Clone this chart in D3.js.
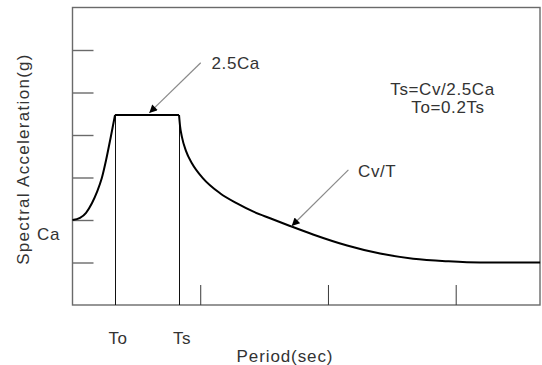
<!DOCTYPE html>
<html>
<head>
<meta charset="utf-8">
<script src="https://cdn.jsdelivr.net/npm/d3@7"></script>
<style>
  html, body { margin: 0; padding: 0; background: #fff; }
  svg { display: block; }
  text { font-family: "Liberation Sans", Arial, sans-serif; fill: #333; }
</style>
</head>
<body>
<svg id="chart" width="542" height="365"></svg>
<script>
// Design response spectrum (schematic), period in tick units, acceleration in tick units
const xTicks = [1, 2, 3];
const yTicks = [1, 2, 3, 4, 5, 6];

const Ca = 2.0;            // spectral acceleration at T = 0
const plateauSa = 4.47;    // the "2.5Ca" plateau level
const To = 0.333;
const Ts = 0.834;
const periodMarks = ["To", "Ts"];
const periodValues = [To, Ts];

// rising branch, 0 .. To
const rampT  = [0, 0.059, 0.106, 0.153, 0.192, 0.229, 0.263, 0.300, 0.333];
const rampSa = [2.0, 2.05, 2.17, 2.40, 2.66, 2.98, 3.41, 3.96, 4.47];

// descending Cv/T branch, Ts .. end of axis
const decayT  = [0.834, 0.842, 0.857, 0.889, 0.936, 1.022, 1.155, 1.288, 1.421, 1.547, 1.703, 1.883, 2.150, 2.408, 2.667, 2.933, 3.191, 3.661];
const decaySa = [4.47, 4.21, 3.95, 3.62, 3.33, 2.98, 2.63, 2.39, 2.19, 2.04, 1.86, 1.66, 1.40, 1.21, 1.09, 1.03, 1.00, 1.00];

const svg = d3.select("#chart");
const plotLeft = 72.5, plotRight = 540, plotTop = 7.5, plotBottom = 305;

const x = d3.scaleLinear().domain([0, 3.66]).range([plotLeft, plotRight]);
const y = d3.scaleLinear().domain([0, 7]).range([plotBottom, plotTop]);

// arrow head
svg.append("defs").append("marker")
  .attr("id", "head")
  .attr("viewBox", "0 0 10 10")
  .attr("refX", 10).attr("refY", 5)
  .attr("markerWidth", 11).attr("markerHeight", 8)
  .attr("markerUnits", "userSpaceOnUse")
  .attr("orient", "auto")
  .append("path").attr("d", "M0,0 L10,5 L0,10 Z").attr("fill", "#000");

// frame
svg.append("rect")
  .attr("x", plotLeft).attr("y", plotTop)
  .attr("width", plotRight - plotLeft).attr("height", plotBottom - plotTop)
  .attr("fill", "none").attr("stroke", "#6a6a6a").attr("stroke-width", 1.4);

// y ticks pointing inward from the left edge
const yAxis = svg.append("g")
  .attr("transform", `translate(${plotLeft},0)`)
  .call(d3.axisRight(y).tickValues(yTicks).tickSize(21).tickFormat(""));
yAxis.select(".domain").remove();
yAxis.selectAll(".tick line").attr("stroke", "#6a6a6a").attr("stroke-width", 1.4);

// x ticks pointing up from the bottom edge
const xAxis = svg.append("g")
  .attr("transform", `translate(0,${plotBottom})`)
  .call(d3.axisTop(x).tickValues(xTicks).tickSize(20).tickFormat(""));
xAxis.select(".domain").remove();
xAxis.selectAll(".tick line").attr("stroke", "#3a3a3a").attr("stroke-width", 1);

// To / Ts verticals
svg.append("g").selectAll("line")
  .data(periodValues)
  .join("line")
  .attr("x1", d => Math.round(x(d)) + 0.5).attr("x2", d => Math.round(x(d)) + 0.5)
  .attr("y1", y(plateauSa)).attr("y2", plotBottom)
  .attr("stroke", "#111").attr("stroke-width", 1);

// spectrum
const line = d3.line().x(d => x(d[0])).y(d => y(d[1]));
const curve = g => g.attr("fill", "none").attr("stroke", "#000").attr("stroke-width", 2)
  .attr("stroke-linejoin", "round");

svg.append("path")
  .datum(rampT.map((t, i) => [t, rampSa[i]]))
  .attr("d", line.curve(d3.curveMonotoneX))
  .call(curve);

svg.append("path")
  .datum([[To, plateauSa], [Ts, plateauSa]])
  .attr("d", line.curve(d3.curveLinear))
  .call(curve);

svg.append("path")
  .datum(decayT.map((t, i) => [t, decaySa[i]]))
  .attr("d", line.curve(d3.curveMonotoneX))
  .call(curve);

// annotation arrows
const arrows = [
  { from: [1.004, 5.70], to: [0.601, 4.52] },
  { from: [2.16, 3.18], to: [1.716, 1.86] }
];
svg.append("g").selectAll("line")
  .data(arrows)
  .join("line")
  .attr("x1", d => x(d.from[0])).attr("y1", d => y(d.from[1]))
  .attr("x2", d => x(d.to[0])).attr("y2", d => y(d.to[1]))
  .attr("stroke", "#8a8a8a").attr("stroke-width", 1.2)
  .attr("marker-end", "url(#head)");

// text
const txt = (s, px, py, anchor = "start", spacing = 0.6) =>
  svg.append("text").attr("x", px).attr("y", py)
    .attr("text-anchor", anchor)
    .attr("font-size", 17)
    .attr("letter-spacing", spacing)
    .text(s);

txt("2.5Ca", 211.5, 69);
txt("Cv/T", 358, 176.5);
txt("Ts=Cv/2.5Ca", 442.5, 94.5, "middle");
txt("To=0.2Ts", 448, 112.5, "middle");
txt("Ca", x(0) - 24, y(Ca) + 19.5, "middle");

svg.append("g").selectAll("text")
  .data(periodMarks)
  .join("text")
  .attr("x", (d, i) => x(periodValues[i]) + 3)
  .attr("y", 344)
  .attr("text-anchor", "middle")
  .attr("font-size", 17)
  .attr("letter-spacing", 0.6)
  .text(d => d);

txt("Period(sec)", 285, 361.5, "middle", 0.9);

svg.append("text")
  .attr("transform", "translate(29,159) rotate(-90)")
  .attr("text-anchor", "middle")
  .attr("font-size", 17)
  .attr("letter-spacing", 1.3)
  .text("Spectral Acceleration(g)");
</script>
</body>
</html>
